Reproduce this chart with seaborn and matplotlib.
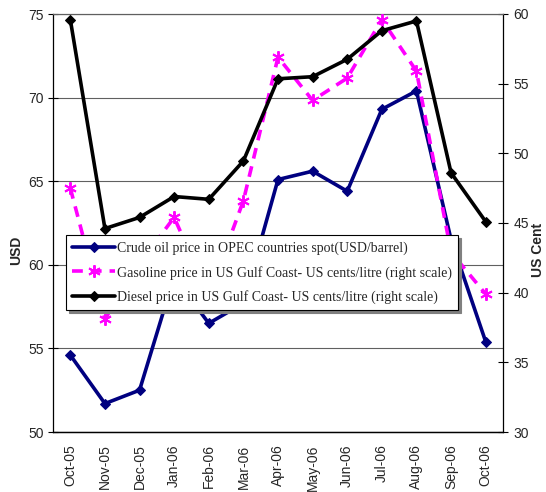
import numpy as np
import pandas as pd
import matplotlib
matplotlib.use("Agg")
import matplotlib.pyplot as plt
import seaborn as sns

months = ["Oct-05", "Nov-05", "Dec-05", "Jan-06", "Feb-06", "Mar-06", "Apr-06",
          "May-06", "Jun-06", "Jul-06", "Aug-06", "Sep-06", "Oct-06"]
crude = [54.6, 51.7, 52.5, 59.3, 56.5, 57.7, 65.1, 65.6, 64.4, 69.3, 70.4, 61.5, 55.4]
gasoline = [47.5, 38.1, 42.1, 45.4, 39.8, 46.6, 56.9, 53.8, 55.4, 59.6, 55.9, 42.9, 39.9]
diesel = [59.6, 44.6, 45.4, 46.9, 46.7, 49.45, 55.35, 55.5, 56.75, 58.8, 59.5, 48.6, 45.1]

labels = ["Crude oil price in OPEC countries spot(USD/barrel)",
          "Gasoline price in US Gulf Coast- US cents/litre (right scale)",
          "Diesel price in US Gulf Coast- US cents/litre (right scale)"]
left_ticks = [50, 55, 60, 65, 70, 75]
right_ticks = [30, 35, 40, 45, 50, 55, 60]

sns.set_style("white")
plt.rcParams['font.family'] = ['Liberation Sans', 'DejaVu Sans']

df = pd.DataFrame({"pos": np.arange(len(months)), "month": months,
                   "crude": crude, "gasoline": gasoline, "diesel": diesel})

fig = plt.figure(figsize=(5.46, 4.92), dpi=100)
ax = fig.add_axes([53/546, 1-432/492, 450/546, 418/492])
ax2 = ax.twinx()

sns.lineplot(data=df, x="pos", y="crude", ax=ax, color="#000080", lw=2.6,
             marker="D", markersize=5, markeredgecolor="#000080", label=labels[0],
             legend=False, zorder=3)
sns.lineplot(data=df, x="pos", y="gasoline", ax=ax2, color="#FF00FF", lw=2.6,
             dashes=False, linestyle=(0, (3, 2.2)), marker=(6, 2, 0), markersize=9,
             markeredgewidth=1.4, markeredgecolor="#FF00FF", label=labels[1],
             legend=False, zorder=3)
sns.lineplot(data=df, x="pos", y="diesel", ax=ax2, color="black", lw=2.6,
             marker="D", markersize=5, markeredgecolor="black", label=labels[2],
             legend=False, zorder=4)

ax.set_xlim(-0.5, len(months) - 0.5)
ax.set_ylim(50, 75)
ax2.set_ylim(30, 60)
ax.set_yticks(left_ticks)
ax2.set_yticks(right_ticks)
ax.set_xticks(np.arange(len(months)))
ax.set_xticklabels(months, rotation=90)
ax.set_xticks(np.arange(len(months) + 1) - 0.5, minor=True)
ax.tick_params(axis="x", which="major", length=0, pad=9, labelsize=10)
ax.tick_params(axis="x", which="minor", length=4, width=0.8, direction="out", color="black")
ax.tick_params(axis="y", length=7, width=0.8, direction="inout", pad=3, labelsize=10, color="black")
ax2.tick_params(axis="y", length=7, width=0.8, direction="inout", pad=4, labelsize=10, color="black")

ax.grid(axis="y", color="#606060", lw=0.8)
ax.grid(axis="x", visible=False)
ax2.grid(False)

for a in (ax, ax2):
    for s in ("left", "right", "bottom"):
        a.spines[s].set_color("black")
        a.spines[s].set_linewidth(0.9)
    a.spines["top"].set_color("#606060")
    a.spines["top"].set_linewidth(0.8)
ax.spines["right"].set_visible(False)
ax2.spines["left"].set_visible(False)

ax.set_xlabel("")
ax.set_ylabel("USD", fontsize=10, fontweight="bold")
ax2.set_ylabel("US Cent", fontsize=10, fontweight="bold", rotation=90)
ax.yaxis.set_label_coords(-0.067, 0.435)
ax2.yaxis.set_label_coords(1.062, 0.435)
ax2.yaxis.label.set_verticalalignment("top")

handles = ax.get_lines()[:1] + ax2.get_lines()[:2]
leg = ax2.legend(handles=handles, labels=labels, loc="upper left",
                 bbox_to_anchor=(0.029, 0.471), frameon=True, fancybox=False,
                 shadow={"color": "#808080", "alpha": 1.0}, framealpha=1,
                 edgecolor="black", handlelength=3.1, handletextpad=0.12,
                 labelspacing=0.77, borderpad=0.45, borderaxespad=0,
                 prop={"family": ["Liberation Serif"], "size": 10})
leg.get_frame().set_linewidth(0.8)
leg.set_zorder(10)

fig.savefig("out.png", dpi=100)
